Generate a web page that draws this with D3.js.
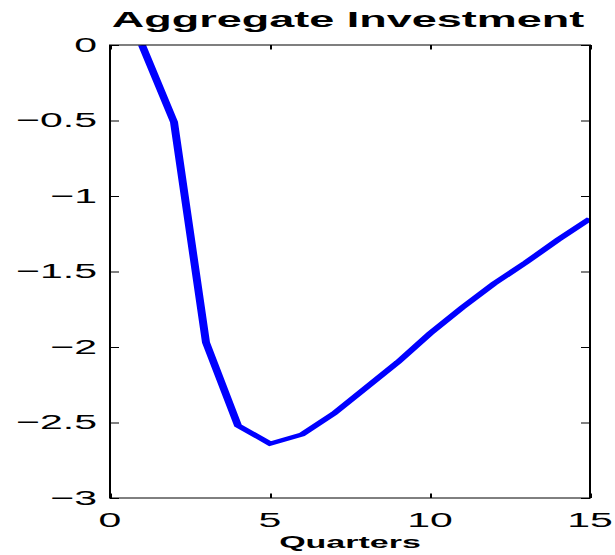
<!DOCTYPE html>
<html>
<head>
<meta charset="utf-8">
<script src="https://cdn.jsdelivr.net/npm/d3@7"></script>
<style>
  html, body { margin: 0; padding: 0; background: #fff; }
  svg { display: block; }
  text { font-family: "Liberation Sans", Arial, Helvetica, sans-serif; fill: #000; }
</style>
</head>
<body>
<svg id="chart" width="615" height="555"></svg>
<script>
// Impulse response of aggregate investment, by quarter
const quarters = [1, 2, 3, 4, 5, 6, 7, 8, 9, 10, 11, 12, 13, 14, 15];
const investment = [0, -0.51, -1.97, -2.52, -2.64, -2.58, -2.44, -2.27, -2.10, -1.91, -1.74, -1.58, -1.44, -1.29, -1.15];

const xTicks = [0, 5, 10, 15];
const yTicks = [0, -0.5, -1, -1.5, -2, -2.5, -3];
const titleText = "Aggregate Investment";
const xLabelText = "Quarters";

// The whole figure is drawn in a frame stretched 2x horizontally
const sx = 2;
const svg = d3.select("#chart");
const g = svg.append("g").attr("transform", `scale(${sx},1)`);

const plotLeft = 110 / sx, plotRight = 590 / sx, plotTop = 45, plotBottom = 498;

const x = d3.scaleLinear().domain([0, 15]).range([plotLeft, plotRight]);
const y = d3.scaleLinear().domain([-3, 0]).range([plotBottom, plotTop]);

const fmt = d => d3.format("")(d);

g.append("clipPath").attr("id", "plotClip")
  .append("rect")
  .attr("x", plotLeft).attr("y", plotTop)
  .attr("width", plotRight - plotLeft).attr("height", plotBottom - plotTop);

// Series line
const line = d3.line().x((d, i) => x(quarters[i])).y(d => y(d));
g.append("path")
  .datum(investment)
  .attr("clip-path", "url(#plotClip)")
  .attr("fill", "none")
  .attr("stroke", "#0000ff")
  .attr("stroke-width", 4)
  .attr("stroke-linejoin", "miter")
  .attr("d", line);

// Axes box with inward ticks on all sides
const tickLen = 4.5;
const axisStyle = sel => {
  sel.select(".domain").remove();
  sel.selectAll(".tick line").attr("stroke", "#000").attr("stroke-width", 1);
  sel.selectAll("text").remove();
};

g.append("g").attr("transform", `translate(0,${plotBottom})`)
  .call(d3.axisBottom(x).tickValues(xTicks).tickSize(-tickLen)).call(axisStyle);
g.append("g").attr("transform", `translate(0,${plotTop})`)
  .call(d3.axisTop(x).tickValues(xTicks).tickSize(-tickLen)).call(axisStyle);
g.append("g").attr("transform", `translate(${plotLeft},0)`)
  .call(d3.axisLeft(y).tickValues(yTicks).tickSize(-tickLen)).call(axisStyle);
g.append("g").attr("transform", `translate(${plotRight},0)`)
  .call(d3.axisRight(y).tickValues(yTicks).tickSize(-tickLen)).call(axisStyle);

g.append("rect")
  .attr("x", plotLeft).attr("y", plotTop)
  .attr("width", plotRight - plotLeft).attr("height", plotBottom - plotTop)
  .attr("fill", "none").attr("stroke", "#000").attr("stroke-width", 1);

// Tick labels
g.selectAll(".xlab").data(xTicks).enter().append("text")
  .attr("x", d => x(d)).attr("y", 527)
  .attr("text-anchor", "middle")
  .attr("font-size", 20.5)
  .text(fmt);

g.selectAll(".ylab").data(yTicks).enter().append("text")
  .attr("x", 97 / sx).attr("y", d => y(d) + 7)
  .attr("text-anchor", "end")
  .attr("font-size", 20.5)
  .text(fmt);

// Title and axis label
g.append("text")
  .attr("x", 348 / sx).attr("y", 27)
  .attr("text-anchor", "middle")
  .attr("font-size", 22.5).attr("font-weight", "bold")
  .text(titleText);

g.append("text")
  .attr("x", 350 / sx).attr("y", 548)
  .attr("text-anchor", "middle")
  .attr("font-size", 17).attr("font-weight", "bold")
  .text(xLabelText);
</script>
</body>
</html>
